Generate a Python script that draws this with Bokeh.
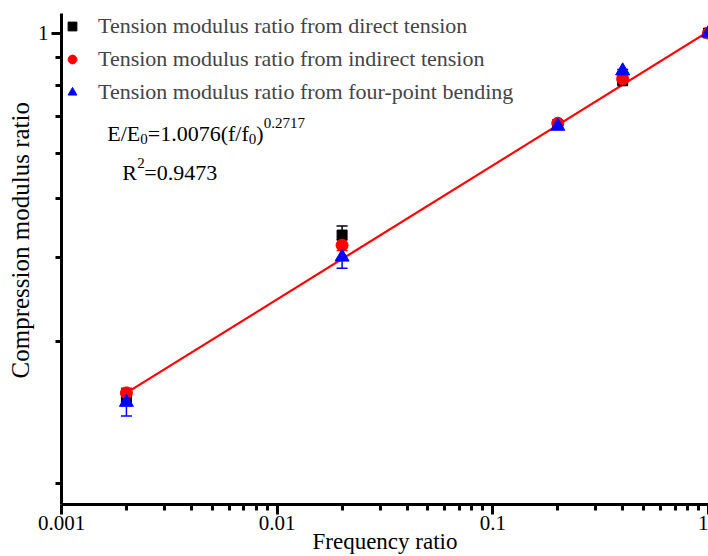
import math
from bokeh.plotting import figure
from bokeh.models import (Whisker, TeeHead, ColumnDataSource, Label, Legend,
                          LegendItem, FixedTicker, Range1d)
from bokeh.embed import file_html
from bokeh.resources import INLINE

# ---------------- data ----------------
freq = [0.002, 0.02, 0.2, 0.4, 1.0]
direct = [0.182, 0.389, 0.652, 0.800, 1.0]
direct_err = [0.004, 0.017, 0.004, 0.004, 0.0]
indirect = [0.186, 0.371, 0.656, 0.807, 1.0]
indirect_err = [0.004, 0.009, 0.004, 0.004, 0.0]
bending = [0.178, 0.351, 0.647, 0.838, 1.0]
bending_err = [0.011, 0.018, 0.008, 0.005, 0.0]

fit_x = [0.002, 1.0]
fit_y = [0.186, 1.0076]

x_major = [0.001, 0.01, 0.1, 1.0]
x_labels = ["0.001", "0.01", "0.1", "1"]
x_minor = [m * d for d in (0.001, 0.01, 0.1) for m in (2, 3, 4, 5, 6, 7, 8, 9)]
y_major = [1.0]
y_labels = ["1"]
y_minor = [0.892, 0.783, 0.678, 0.570, 0.462, 0.350, 0.237, 0.122]

series_names = ["Tension modulus ratio from direct tension",
                "Tension modulus ratio from indirect tension",
                "Tension modulus ratio from four-point bending"]
x_title = "Frequency ratio"
y_title = "Compression modulus ratio"

FONT = "Liberation Serif"

p = figure(width=708, height=556, x_axis_type="log", y_axis_type="log",
           x_range=Range1d(0.001, 1.0), y_range=Range1d(0.1104, 1.0957),
           output_backend="svg", toolbar_location=None,
           min_border_left=61, min_border_right=0, min_border_top=13,
           min_border_bottom=51)
p.outline_line_color = None
p.grid.visible = False
p.background_fill_color = "white"
p.border_fill_color = "white"

for ax in (p.xaxis[0], p.yaxis[0]):
    ax.axis_line_width = 3
    ax.axis_line_color = "black"
    ax.major_tick_line_width = 3
    ax.minor_tick_line_width = 3
    ax.major_tick_out = 10
    ax.major_tick_in = 0
    ax.minor_tick_out = 6
    ax.minor_tick_in = 0
    ax.major_label_text_font = FONT
    ax.major_label_text_font_size = "21px"
    ax.major_label_text_color = "black"
    ax.axis_label_text_font = FONT
    ax.axis_label_text_font_style = "normal"
    ax.axis_label_text_color = "black"

xa = p.xaxis[0]
xa.ticker = FixedTicker(ticks=x_major, minor_ticks=x_minor)
xa.major_label_overrides = {v: s for v, s in zip(x_major, x_labels)}
xa.major_label_standoff = 1
xa.axis_label = x_title
xa.axis_label_text_font_size = "23px"
xa.axis_label_standoff = -4

ya = p.yaxis[0]
ya.ticker = FixedTicker(ticks=y_major, minor_ticks=y_minor)
ya.major_label_overrides = {v: s for v, s in zip(y_major, y_labels)}
ya.major_label_standoff = 3
# leading no-break spaces shift the rotated title upward as in the reference
ya.axis_label = "\u00a0" * 6 + y_title
ya.axis_label_text_font_size = "25px"
ya.axis_label_standoff = 1

# fit line
p.line(fit_x, fit_y, line_color="red", line_width=2.2)

# error bars
def add_err(vals, errs, color):
    src = ColumnDataSource(dict(x=freq,
                                lo=[v - e for v, e in zip(vals, errs)],
                                hi=[v + e for v, e in zip(vals, errs)]))
    w = Whisker(source=src, base="x", lower="lo", upper="hi",
                line_color=color, line_width=1.5,
                upper_head=TeeHead(size=11, line_color=color, line_width=1.5),
                lower_head=TeeHead(size=11, line_color=color, line_width=1.5))
    p.add_layout(w)

add_err(direct, direct_err, "black")
add_err(indirect, indirect_err, "red")
add_err(bending, bending_err, "blue")

r1 = p.scatter(freq, direct, marker="square", size=10, fill_color="black", line_color="black")
r2 = p.scatter(freq, indirect, marker="circle", size=12, fill_color="red", line_color="red")
r3 = p.scatter(freq, bending, marker="triangle", size=14, fill_color="blue", line_color="blue")

legend = Legend(items=[LegendItem(label=series_names[0], renderers=[r1]),
                       LegendItem(label=series_names[1], renderers=[r2]),
                       LegendItem(label=series_names[2], renderers=[r3])],
                location="top_left", border_line_color=None,
                background_fill_alpha=0, margin=0, padding=0,
                glyph_width=22, glyph_height=22, label_height=22,
                label_standoff=15, spacing=7,
                label_text_font=FONT, label_text_font_size="22px")
p.add_layout(legend)

# equation
x_eq, y_eq = 0.00163, 0.626
eq_parts = [("E/E", 0, 0, "22px"), ("0", 33, -6, "15px"),
            ("=1.0076(f/f", 40.5, 0, "22px"), ("0", 141.5, -6, "15px"),
            (")", 149, 0, "22px"), ("0.2717", 156.5, 10, "15px")]
for t, dx, dy, fs in eq_parts:
    p.add_layout(Label(x=x_eq, y=y_eq, x_offset=dx, y_offset=dy, text=t,
                       text_font=FONT, text_font_size=fs, text_color="black",
                       text_align="left", text_baseline="alphabetic"))
y_r2 = 0.52
r2_parts = [("R", 15, 0, "22px"), ("2", 30, 10, "15px"), ("=0.9473", 37, 0, "22px")]
for t, dx, dy, fs in r2_parts:
    p.add_layout(Label(x=x_eq, y=y_r2, x_offset=dx, y_offset=dy, text=t,
                       text_font=FONT, text_font_size=fs, text_color="black",
                       text_align="left", text_baseline="alphabetic"))

open("out.html", "w").write(file_html(p, INLINE))
